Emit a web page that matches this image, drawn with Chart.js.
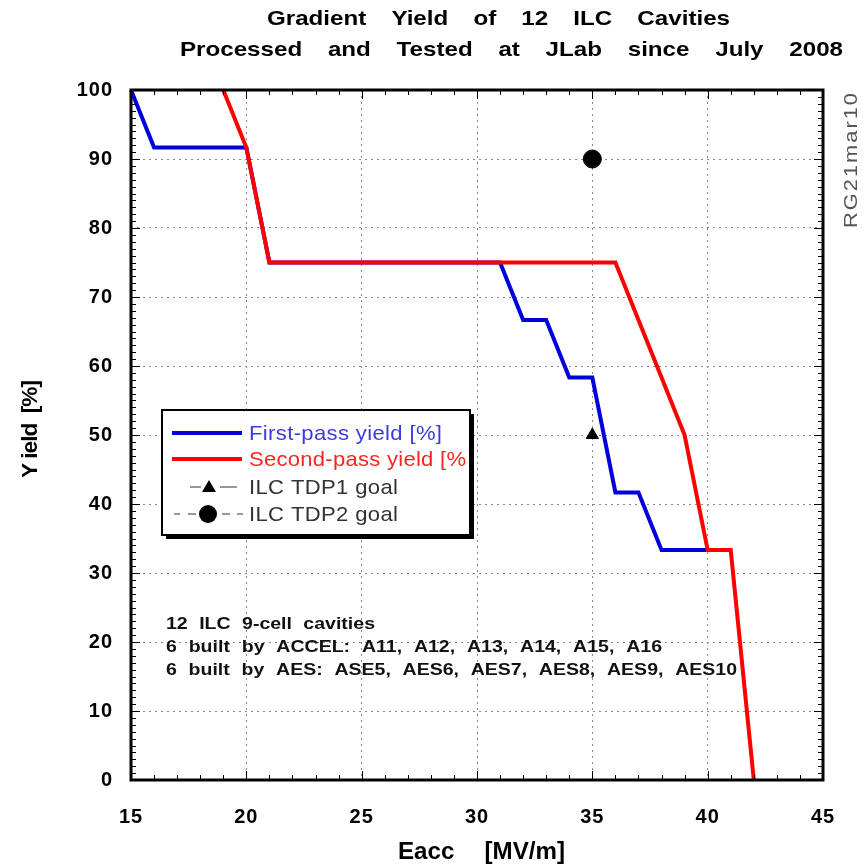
<!DOCTYPE html>
<html>
<head>
<meta charset="utf-8">
<script src="https://cdn.jsdelivr.net/npm/chart.js@4.4.1/dist/chart.umd.min.js"></script>
<style>
  html, body { margin:0; padding:0; background:#fff; }
  #wrap { width:868px; height:867px; }
</style>
</head>
<body>
<div id="wrap"><canvas id="c" width="868" height="867"></canvas></div>
<script>
// dati
const firstX  = [15, 16, 20, 21, 31, 32, 33, 34, 35, 36, 37, 38, 40];
const firstY  = [100, 91.67, 91.67, 75, 75, 66.67, 66.67, 58.33, 58.33, 41.67, 41.67, 33.33, 33.33];
const secondX = [19, 20, 21, 36, 37, 38, 39, 40, 41, 42];
const secondY = [100, 91.67, 75, 75, 66.67, 58.33, 50, 33.33, 33.33, 0];
const tdp1 = [{ x: 35, y: 50 }];
const tdp2 = [{ x: 35, y: 90 }];

const titleLines = ['Gradient Yield of 12 ILC Cavities', 'Processed and Tested at JLab since July 2008'];
const noteLines = ['12 ILC 9-cell cavities',
  '6 built by ACCEL: A11, A12, A13, A14, A15, A16',
  '6 built by AES: ASE5, AES6, AES7, AES8, AES9, AES10'];
const legendLabels = ['First-pass yield [%]', 'Second-pass yield [%', 'ILC TDP1 goal', 'ILC TDP2 goal'];

const BLUE = '#0000dd', RED = '#ff0000';
const FONT = '"Liberation Sans", Arial, sans-serif';

const toPts = (xs, ys) => xs.map((x, i) => ({ x, y: ys[i] }));

// parole distribuite fra x0 e x1, testo allargato di sx
function spreadWords(ctx, text, x0, x1, y, sx) {
  const words = text.split(' ');
  const ws = words.map(w => ctx.measureText(w).width * sx);
  const gap = (x1 - x0 - ws.reduce((a, b) => a + b, 0)) / (words.length - 1);
  let x = x0;
  words.forEach((w, i) => {
    ctx.save(); ctx.translate(x, y); ctx.scale(sx, 1); ctx.fillText(w, 0, 0); ctx.restore();
    x += ws[i] + gap;
  });
}
// testo allargato (sx) e con letterSpacing fino a x1
function fitText(ctx, text, x0, x1, y, sx) {
  ctx.letterSpacing = '0px';
  const w = ctx.measureText(text).width;
  ctx.save();
  ctx.translate(x0, y); ctx.scale(sx, 1);
  ctx.letterSpacing = (((x1 - x0) / sx - w) / (text.length - 1)) + 'px';
  ctx.fillText(text, 0, 0);
  ctx.restore();
  ctx.letterSpacing = '0px';
}

// ——— disegno extra: bordo, tacche, titoli, legenda, note ———
const decor = {
  id: 'decor',
  beforeDraw(chart) { chart.ctx.letterSpacing = '1px'; },
  afterDatasetsDraw(chart) {
    const { ctx, chartArea: a, scales: { x, y } } = chart;
    ctx.save();
    ctx.letterSpacing = '0px';
    // tacche interne
    ctx.strokeStyle = '#000';
    ctx.lineWidth = 1;
    ctx.beginPath();
    for (let v = 15; v <= 45; v++) {
      const px = Math.round(x.getPixelForValue(v)) + 0.5;
      const len = v % 5 === 0 ? 9 : 5;
      ctx.moveTo(px, a.bottom); ctx.lineTo(px, a.bottom - len);
      ctx.moveTo(px, a.top); ctx.lineTo(px, a.top + len);
    }
    for (let v = 0; v <= 100; v++) {
      const py = Math.round(y.getPixelForValue(v)) + 0.5;
      const len = v % 10 === 0 ? 9 : 5;
      ctx.moveTo(a.left, py); ctx.lineTo(a.left + len, py);
      ctx.moveTo(a.right, py); ctx.lineTo(a.right - len, py);
    }
    ctx.stroke();
    // bordo spesso
    ctx.lineWidth = 3;
    ctx.strokeRect(a.left, a.top, a.right - a.left, a.bottom - a.top);

    // titolo
    ctx.fillStyle = '#000';
    ctx.textAlign = 'left';
    ctx.textBaseline = 'middle';
    ctx.font = 'bold 21px ' + FONT;
    spreadWords(ctx, titleLines[0], 267, 730, 19, 1.15);
    spreadWords(ctx, titleLines[1], 180, 843, 50, 1.15);

    // titoli assi
    ctx.font = 'bold 23px ' + FONT;
    spreadWords(ctx, 'Eacc [MV/m]', 398, 565, 853, 1.05);
    ctx.save();
    ctx.translate(31, 0);
    ctx.rotate(-Math.PI / 2);
    ctx.font = 'bold 22px ' + FONT;
    fitText(ctx, 'Y ield  [%]', -478, -380, 0, 1.03);
    ctx.restore();

    // sigla a destra
    ctx.save();
    ctx.translate(852, 0);
    ctx.rotate(-Math.PI / 2);
    ctx.font = '19px ' + FONT;
    ctx.fillStyle = '#555';
    fitText(ctx, 'RG21mar10', -228, -93, 0, 1.15);
    ctx.restore();

    // legenda
    const lx = 162, ly = 410, lw = 308, lh = 125;
    ctx.fillStyle = '#000';
    ctx.fillRect(lx + 4, ly + 4, lw, lh);
    ctx.fillStyle = '#fff';
    ctx.fillRect(lx, ly, lw, lh);
    ctx.lineWidth = 2;
    ctx.strokeStyle = '#000';
    ctx.strokeRect(lx, ly, lw, lh);

    const rows = [433, 459, 487, 514];
    ctx.lineWidth = 4;
    ctx.strokeStyle = BLUE;
    ctx.beginPath(); ctx.moveTo(172, rows[0]); ctx.lineTo(242, rows[0]); ctx.stroke();
    ctx.strokeStyle = RED;
    ctx.beginPath(); ctx.moveTo(172, rows[1]); ctx.lineTo(242, rows[1]); ctx.stroke();

    ctx.lineWidth = 1;
    ctx.strokeStyle = '#333';
    ctx.beginPath();
    ctx.moveTo(190, rows[2]); ctx.lineTo(201, rows[2]);
    ctx.moveTo(220, rows[2]); ctx.lineTo(237, rows[2]);
    ctx.moveTo(174, rows[3]); ctx.lineTo(180, rows[3]);
    ctx.moveTo(188, rows[3]); ctx.lineTo(196, rows[3]);
    ctx.moveTo(222, rows[3]); ctx.lineTo(230, rows[3]);
    ctx.moveTo(237, rows[3]); ctx.lineTo(243, rows[3]);
    ctx.stroke();
    ctx.fillStyle = '#000';
    ctx.beginPath();
    ctx.moveTo(209, rows[2] - 7); ctx.lineTo(216, rows[2] + 5); ctx.lineTo(202, rows[2] + 5);
    ctx.closePath(); ctx.fill();
    ctx.beginPath(); ctx.arc(208, rows[3], 9, 0, Math.PI * 2); ctx.fill();

    ctx.font = '21px ' + FONT;
    const legColors = ['#3b3be0', '#ff2222', '#333', '#333'];
    const legEnds = [442, 466, 398, 398];
    legendLabels.forEach((t, i) => {
      ctx.fillStyle = legColors[i];
      fitText(ctx, t, 249, legEnds[i], rows[i] + 1, 1.05);
    });

    // note
    ctx.fillStyle = '#111';
    ctx.font = 'bold 16px ' + FONT;
    const noteEnds = [375, 662, 737];
    noteLines.forEach((t, i) => spreadWords(ctx, t, 166, noteEnds[i], 625 + i * 23, 1.22));
    ctx.restore();
  },
  afterDraw(chart) { chart.ctx.letterSpacing = '0px'; }
};

new Chart(document.getElementById('c'), {
  type: 'scatter',
  data: {
    datasets: [
      { label: 'ILC TDP2 goal', data: tdp2, pointStyle: 'circle', pointRadius: 9,
        backgroundColor: '#000', borderColor: '#000', showLine: false },
      { label: 'ILC TDP1 goal', data: tdp1, pointStyle: 'triangle', pointRadius: 7,
        backgroundColor: '#000', borderColor: '#000', showLine: false },
      { label: 'Second-pass yield [%]', data: toPts(secondX, secondY), showLine: true,
        borderColor: RED, borderWidth: 4, pointRadius: 0, tension: 0 },
      { label: 'First-pass yield [%]', data: toPts(firstX, firstY), showLine: true,
        borderColor: BLUE, borderWidth: 4, pointRadius: 0, tension: 0 }
    ]
  },
  options: {
    responsive: false,
    animation: false,
    clip: false,
    layout: { padding: { top: 90, right: 45, bottom: 0, left: 0 } },
    plugins: { legend: { display: false }, tooltip: { enabled: false } },
    scales: {
      x: {
        type: 'linear', min: 15, max: 45,
        afterFit: s => { s.height = 87; },
        ticks: { stepSize: 5, padding: 25, color: '#000', font: { family: FONT, size: 20, weight: 'bold' } },
        grid: { color: '#888', lineWidth: 1, drawTicks: false },
        border: { display: false, dash: [2, 4] }
      },
      y: {
        min: 0, max: 100,
        afterFit: s => { s.width = 131; },
        ticks: { stepSize: 10, padding: 18, color: '#000', font: { family: FONT, size: 20, weight: 'bold' } },
        grid: { color: '#888', lineWidth: 1, drawTicks: false },
        border: { display: false, dash: [2, 4] }
      }
    }
  },
  plugins: [decor]
});
</script>
</body>
</html>
